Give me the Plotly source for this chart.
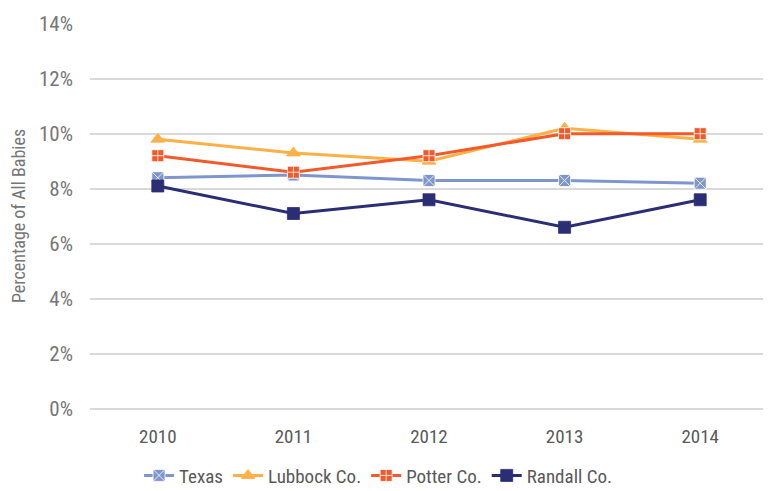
import plotly.graph_objects as go

years = ["2010", "2011", "2012", "2013", "2014"]
texas = [8.4, 8.5, 8.3, 8.3, 8.2]
lubbock = [9.8, 9.3, 9.0, 10.2, 9.8]
potter = [9.2, 8.6, 9.2, 10.0, 10.0]
randall = [8.1, 7.1, 7.6, 6.6, 7.6]
y_ticks = [0, 2, 4, 6, 8, 10, 12, 14]
y_labels = ["0%", "2%", "4%", "6%", "8%", "10%", "12%", "14%"]

FONT = "Roboto Condensed, DejaVu Sans Condensed, sans-serif"

series = [
    ("Texas", texas, "#7F96CC", "square-x"),
    ("Lubbock Co.", lubbock, "#FDB045", "triangle-up"),
    ("Potter Co.", potter, "#F15A2B", "square-cross"),
    ("Randall Co.", randall, "#2B2D75", "square"),
]

fig = go.Figure()
for name, vals, col, sym in series:
    fig.add_trace(go.Scatter(
        x=years, y=vals, name=name, mode="lines+markers",
        line=dict(color=col, width=3),
        marker=dict(symbol=sym, size=12, color=col,
                    line=dict(color="white" if sym in ("square-x", "square-cross") else col, width=0.8)),
    ))

fig.update_layout(
    width=763, height=483,
    margin=dict(l=82, r=3, t=15, b=82),
    paper_bgcolor="white", plot_bgcolor="white",
    font=dict(family=FONT, color="#767676", size=19),
    showlegend=True,
    legend=dict(orientation="h", xref="container", yref="container",
                x=0.485, xanchor="center", y=0.032, yanchor="middle",
                font=dict(size=19, color="#595959"), itemwidth=30,
                traceorder="normal"),
    xaxis=dict(type="category", range=[-0.5, 4.5], showgrid=False, showline=False, zeroline=False,
               ticks="", ticklabelstandoff=14, automargin=False,
               tickfont=dict(size=19, color="#595959")),
    yaxis=dict(range=[0, 14.02], tickvals=y_ticks, ticktext=y_labels,
               showgrid=True, gridcolor="#D9D9D9", gridwidth=2,
               zeroline=True, zerolinecolor="#D9D9D9", zerolinewidth=2,
               showline=False, ticks="", ticklabelstandoff=16, automargin=False,
               tickfont=dict(size=21, color="#767676"),
               title=dict(text="Percentage of All Babies", font=dict(size=18, color="#767676"), standoff=11)),
)

fig.write_html("out.html")
